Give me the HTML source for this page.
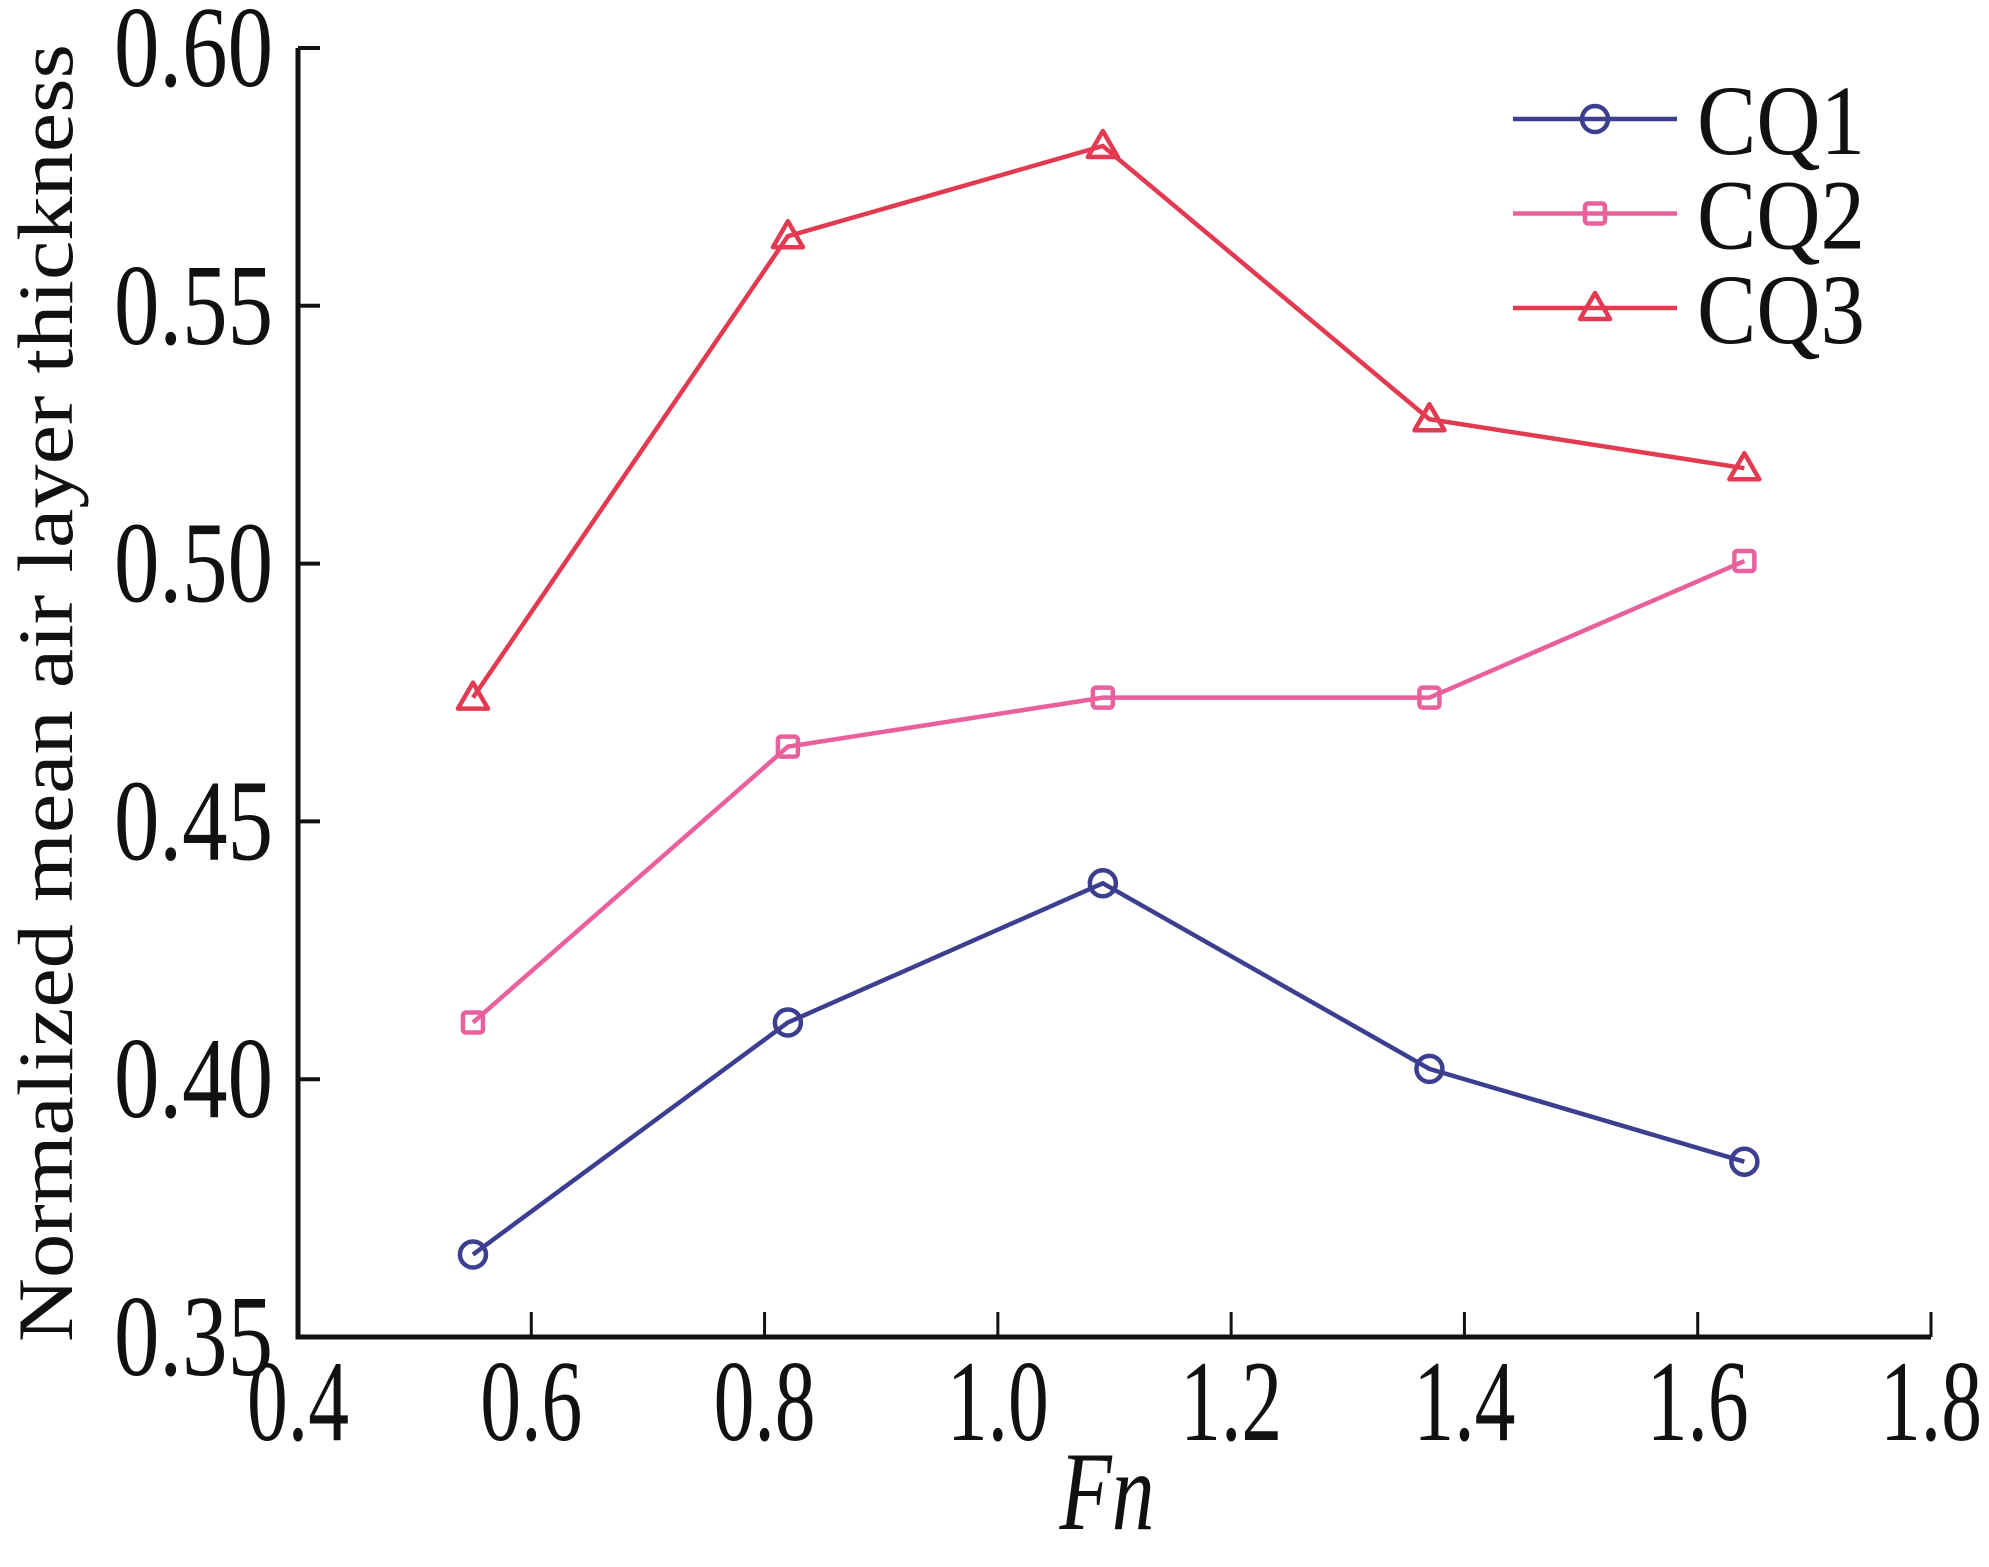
<!DOCTYPE html>
<html><head><meta charset="utf-8"><style>
html,body{margin:0;padding:0;background:#fff;}
svg{display:block;}
text{font-family:"Liberation Serif","DejaVu Serif","Times New Roman",serif;fill:#111;}
</style></head><body>
<svg id="chart" width="1989" height="1567" viewBox="0 0 1989 1567" xmlns="http://www.w3.org/2000/svg">
<g id="axes"></g>
<g id="series"></g>
<g id="legend"></g>
</svg>
<script>
const fnValues = [0.55, 0.82, 1.09, 1.37, 1.64];
const cq1Values = [0.366, 0.411, 0.438, 0.402, 0.384];
const cq2Values = [0.411, 0.4645, 0.474, 0.474, 0.5005];
const cq3Values = [0.474, 0.5635, 0.581, 0.528, 0.5185];
const seriesNames = ["CQ1", "CQ2", "CQ3"];
const xTicks = [0.4, 0.6, 0.8, 1.0, 1.2, 1.4, 1.6, 1.8];
const xTickLabels = ["0.4", "0.6", "0.8", "1.0", "1.2", "1.4", "1.6", "1.8"];
const yTicks = [0.35, 0.40, 0.45, 0.50, 0.55, 0.60];
const yTickLabels = ["0.35", "0.40", "0.45", "0.50", "0.55", "0.60"];

const NS = "http://www.w3.org/2000/svg";
const FONT = '"Liberation Serif","DejaVu Serif",serif';
const X0 = 298, X1 = 1931, Y0 = 1337, Y1 = 48;
function xs(v){ return X0 + (v - 0.4) / 1.4 * (X1 - X0); }
function ys(v){ return Y0 - (v - 0.35) / 0.25 * (Y0 - Y1); }
function mk(tag, attrs, parent){
  const e = document.createElementNS(NS, tag);
  for (const k in attrs) e.setAttribute(k, attrs[k]);
  if (tag === 'text') e.setAttribute('font-family', FONT);
  parent.appendChild(e);
  return e;
}
const axes = document.getElementById('axes');
const series = document.getElementById('series');
const legend = document.getElementById('legend');

let a = mk('path', {d:`M${X0},${Y1} V${Y0} H${X1}`, fill:'none', stroke:'#111', 'stroke-width':5}, axes);



yTicks.forEach((t, i) => {
  const y = ys(t);
  let tk = mk('line', {x1:X0, x2:X0+22, y1:y, y2:y, stroke:'#111', 'stroke-width':4}, axes);
  
  
  let tx = mk('text', {x:273, y:y+38, 'text-anchor':'end', 'font-size':116, textLength:159, lengthAdjust:'spacingAndGlyphs'}, axes);
  tx.textContent = yTickLabels[i];
  
  
});
xTicks.forEach((t, i) => {
  const x = xs(t);
  let tk = mk('line', {x1:x, x2:x, y1:Y0, y2:Y0-25, stroke:'#111', 'stroke-width':3}, axes);
  
  
  let tx = mk('text', {x:x, y:1440, 'text-anchor':'middle', 'font-size':116, textLength:102, lengthAdjust:'spacingAndGlyphs'}, axes);
  tx.textContent = xTickLabels[i];
  
  
});
let xt = mk('text', {x:1107, y:1529, 'text-anchor':'middle', 'font-size':112, 'font-style':'italic', textLength:95, lengthAdjust:'spacingAndGlyphs'}, axes);
xt.textContent = 'Fn';


let yt = mk('text', {x:0, y:0, 'text-anchor':'middle', 'font-size':78, transform:'translate(72,693) rotate(-90)', textLength:1298, lengthAdjust:'spacingAndGlyphs'}, axes);
yt.textContent = 'Normalized mean air layer thickness';



const colors = ['#3c3f90', '#e8609c', '#e23a50'];
const shapes = ['circle', 'square', 'triangle'];
function marker(shape, x, y, color, parent){
  let m;
  if (shape === 'circle') m = mk('circle', {cx:x, cy:y, r:13, fill:'none', stroke:color, 'stroke-width':4.5}, parent);
  else if (shape === 'square') m = mk('rect', {x:x-10, y:y-10, width:20, height:20, rx:3, fill:'none', stroke:color, 'stroke-width':4.5}, parent);
  else m = mk('path', {d:`M${x},${y-15} L${x+15},${y+11} L${x-15},${y+11} Z`, fill:'none', stroke:color, 'stroke-width':4.5, 'stroke-linejoin':'round'}, parent);
  return m;
}
[cq1Values, cq2Values, cq3Values].forEach((vals, s) => {
  const g = mk('g', {}, series);
  
  
  const pts = vals.map((v, i) => xs(fnValues[i]) + ',' + ys(v)).join(' ');
  let pl = mk('polyline', {points:pts, fill:'none', stroke:colors[s], 'stroke-width':4.5}, g);
  
  
  vals.forEach((v, i) => {
    let m = marker(shapes[s], xs(fnValues[i]), ys(v), colors[s], g);
    
    
  });
  const ly = 119 + s * 94.5;
  const lg = mk('g', {}, legend);
  
  
  mk('line', {x1:1513, x2:1677, y1:ly, y2:ly, stroke:colors[s], 'stroke-width':4.5}, lg);
  marker(shapes[s], 1595, ly, colors[s], lg);
  let lt = mk('text', {x:1697, y:ly+35, 'font-size':100, textLength:168, lengthAdjust:'spacingAndGlyphs'}, lg);
  lt.textContent = seriesNames[s];
  
  
});
</script>
</body></html>
